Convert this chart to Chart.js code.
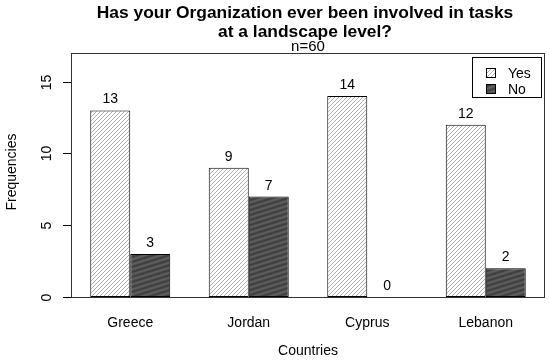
<!DOCTYPE html>
<html>
<head>
<meta charset="utf-8">
<script src="https://cdn.jsdelivr.net/npm/chart.js@4.4.1/dist/chart.umd.min.js"></script>
<style>
  html, body { margin: 0; padding: 0; background: white; }
  canvas { display: block; }
</style>
</head>
<body>
<canvas id="barChart" width="550" height="361"></canvas>
<script>
const countries = ['Greece', 'Jordan', 'Cyprus', 'Lebanon']
const yesValues = [13, 9, 14, 12]
const noValues = [3, 7, 0, 2]
const yTicks = [0, 5, 10, 15]
const yMax = 17
const titleLines = ['Has your Organization ever been involved in tasks', 'at a landscape level?']
const subtitle = 'n=60'
const xTitle = 'Countries'
const yTitle = 'Frequencies'

const FONT = '"Liberation Sans", Arial, Helvetica, sans-serif'

// R style hatch (density lines at 45 degrees)
const makeHatch = () => {
  const c = document.createElement('canvas')
  c.width = 4
  c.height = 4
  const ctx = c.getContext('2d')
  ctx.fillStyle = 'white'
  ctx.fillRect(0, 0, 4, 4)
  ctx.strokeStyle = '#8c8c8c'
  ctx.lineWidth = 0.7
  ctx.beginPath()
  for (const off of [-4, 0, 4]) {
    ctx.moveTo(-1 + off, 5)
    ctx.lineTo(5 + off, -1)
  }
  ctx.stroke()
  return ctx.createPattern(c, 'repeat')
}

// dark fill with soft shallow stripes
const makeDark = () => {
  const w = 16, h = 5
  const c = document.createElement('canvas')
  c.width = w
  c.height = h
  const ctx = c.getContext('2d')
  const img = ctx.createImageData(w, h)
  for (let y = 0; y < h; y++) {
    for (let x = 0; x < w; x++) {
      const phase = (y + x * h / w) / h
      const v = Math.round(78 + 16 * Math.cos(2 * Math.PI * phase))
      const i = (y * w + x) * 4
      img.data[i] = v
      img.data[i + 1] = v
      img.data[i + 2] = v
      img.data[i + 3] = 255
    }
  }
  ctx.putImageData(img, 0, 0)
  return ctx.createPattern(c, 'repeat')
}

const hatch = makeHatch()
const dark = makeDark()

const rStyle = {
  id: 'rStyle',
  afterDraw(chart) {
    const { ctx, chartArea: area, scales } = chart
    const y = scales.y
    const x = scales.x
    ctx.save()
    ctx.fillStyle = 'black'
    ctx.strokeStyle = '#333'
    ctx.lineWidth = 1

    // box
    ctx.strokeRect(area.left + 0.5, area.top + 0.5, area.right - area.left - 1, area.bottom - area.top)

    // y axis ticks and labels
    ctx.strokeStyle = 'black'
    ctx.font = '14px ' + FONT
    ctx.textAlign = 'center'
    ctx.textBaseline = 'alphabetic'
    yTicks.forEach(t => {
      const py = Math.round(y.getPixelForValue(t)) + 0.5
      ctx.beginPath()
      ctx.moveTo(area.left - 8, py)
      ctx.lineTo(area.left, py)
      ctx.stroke()
      ctx.save()
      ctx.translate(area.left - 20, py)
      ctx.rotate(-Math.PI / 2)
      ctx.fillText(String(t), 0, 0)
      ctx.restore()
    })

    // category labels
    countries.forEach((name, i) => {
      ctx.fillText(name, x.getPixelForValue(i), area.bottom + 30)
    })

    // axis titles
    ctx.fillText(xTitle, (area.left + area.right) / 2, area.bottom + 58)
    ctx.save()
    ctx.translate(16, (area.top + area.bottom) / 2 - 3)
    ctx.rotate(-Math.PI / 2)
    ctx.fillText(yTitle, 0, 0)
    ctx.restore()

    // value labels
    chart.data.datasets.forEach((ds, di) => {
      chart.getDatasetMeta(di).data.forEach((bar, i) => {
        ctx.fillText(String(ds.data[i]), bar.x, bar.y - 7)
      })
    })

    // title
    const cx = (area.left + area.right) / 2 - 3
    ctx.font = 'bold 17.4px ' + FONT
    ctx.fillText(titleLines[0], cx, 18)
    ctx.fillText(titleLines[1], cx, 37)
    ctx.font = '15px ' + FONT
    ctx.fillText(subtitle, cx + 3, 51)

    // legend
    const lx = area.right - 73
    const ly = area.top + 4
    ctx.strokeRect(lx + 0.5, ly + 0.5, 69, 40)
    ctx.font = '14px ' + FONT
    ctx.textAlign = 'left'
    ctx.textBaseline = 'middle'
    chart.data.datasets.forEach((ds, di) => {
      const rowY = ly + 16 + di * 16
      ctx.fillStyle = ds.backgroundColor
      ctx.fillRect(lx + 14, rowY - 5, 10, 10)
      ctx.strokeStyle = 'black'
      ctx.strokeRect(lx + 14.5, rowY - 4.5, 9, 9)
      ctx.fillStyle = 'black'
      ctx.fillText(ds.label, lx + 36, rowY + 1)
    })
    ctx.restore()
  }
}

const ctx = document.getElementById('barChart')
new Chart(ctx, {
  type: 'bar',
  data: {
    labels: countries,
    datasets: [
      { label: 'Yes', data: yesValues, backgroundColor: hatch, borderColor: 'black', borderWidth: 1, borderSkipped: false },
      { label: 'No', data: noValues, backgroundColor: dark, borderColor: 'black', borderWidth: 1, borderSkipped: false }
    ]
  },
  options: {
    responsive: false,
    animation: false,
    layout: { padding: { left: 71, right: 5, top: 53, bottom: 64 } },
    datasets: { bar: { categoryPercentage: 80 / 118.5, barPercentage: 1 } },
    scales: {
      x: { display: false },
      y: { display: false, min: 0, max: yMax }
    },
    plugins: {
      legend: { display: false },
      tooltip: { enabled: false }
    }
  },
  plugins: [rStyle]
})
</script>
</body>
</html>
